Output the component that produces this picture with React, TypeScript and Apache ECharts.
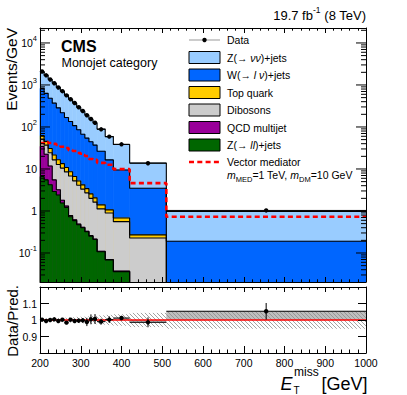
import React, { useEffect, useRef } from "react";
import * as echarts from "echarts";

// ---------- data ----------
// bin edges of E_T^miss in GeV
const binEdges = [200, 210, 220, 230, 240, 250, 260, 270, 280, 290, 300, 310, 320, 330, 340, 360, 380, 420, 510, 1000];

// Events / GeV per bin
const dataValues = [2090, 1700, 1350, 1100, 870, 710, 565, 457, 372, 295, 240, 190, 155, 126, 88, 59, 38.7, 13.7, 1.03];
const zvvValues = [1252, 1080, 870, 726, 590, 491, 406, 321, 266, 210, 173, 138, 109, 88, 62.5, 42.5, 28.7, 10.4, 0.79];
const wValues = [768, 586, 450, 348, 269, 205, 157, 126, 101, 81, 63, 51, 42, 35, 25, 15.4, 8.8, 3.2, 0.19];
const topValues = [11, 8.5, 6.5, 5.0, 3.8, 2.9, 2.3, 1.8, 1.4, 1.1, 0.88, 0.7, 0.55, 0.43, 0.28, 0.17, 0.125, 0.042, 0];
const dibosonValues = [17, 14.5, 12.5, 11, 9.6, 8.7, 7.2, 6.0, 4.6, 3.6, 2.9, 2.37, 1.74, 1.41, 1.01, 0.825, 0.52, 0.228, 0];
const qcdValues = [28, 17, 7.6, 2.6, 0.8, 0.25, 0.1, 0.05, 0.03, 0.02, 0.01, 0.01, 0.01, 0.005, 0.003, 0.002, 0.001, 0, 0];
const zllValues = [6.6, 5.5, 4.2, 2.9, 2.4, 1.55, 1.22, 0.73, 0.59, 0.47, 0.4, 0.32, 0.25, 0.21, 0.107, 0.068, 0.036, 0, 0];
const signalValues = [41.6, 44, 41.6, 39.5, 37.5, 33.9, 31.6, 28.1, 26.7, 24.0, 21.5, 20.4, 17.3, 16.5, 14.0, 12.6, 9.9, 4.6, 0.73];

// Data / Pred.
const ratioValues = [1.002, 0.994, 1.0, 1.004, 0.994, 1.002, 0.984, 1.002, 0.994, 0.996, 0.998, 0.988, 1.004, 1.006, 0.99, 1.002, 1.012, 0.986, 1.053];
const ratioErrors = [0.005, 0.005, 0.006, 0.006, 0.007, 0.008, 0.009, 0.01, 0.011, 0.012, 0.014, 0.025, 0.03, 0.03, 0.018, 0.02, 0.013, 0.03, 0.05];
const bandErrors = [0.008, 0.009, 0.01, 0.011, 0.012, 0.013, 0.014, 0.016, 0.017, 0.019, 0.02, 0.022, 0.024, 0.026, 0.028, 0.031, 0.035, 0.043, 0.053];

// axis ticks
const xMajorTicks = [200, 300, 400, 500, 600, 700, 800, 900, 1000];
const logDecades = [0.01, 0.1, 1, 10, 100, 1000, 10000];
const ratioTickLabels = [0.9, 1, 1.1];

// ---------- style ----------
const FONT = "'Liberation Sans', Arial, Helvetica, sans-serif";
const Y_MIN = 0.0204;
const Y_MAX = 22700;
const TINY = 1e-5;

const legendRows = [
  { label: "{a|Z(→ }{i|νν}{a|)+jets}", color: "#99ccff" },
  { label: "{a|W(→ }{i|l ν}{a|)+jets}", color: "#0066ff" },
  { label: "{a|Top quark}", color: "#ffcc00" },
  { label: "{a|Dibosons}", color: "#cccccc" },
  { label: "{a|QCD multijet}", color: "#990099" },
  { label: "{a|Z(→ }{i|ll}{a|)+jets}", color: "#006600" },
];

function stepData(vals: number[]) {
  const pts: number[][] = [];
  for (let i = 0; i < binEdges.length; i++) {
    const v = vals[Math.min(i, vals.length - 1)];
    pts.push([binEdges[i], v > 0 ? v : TINY]);
  }
  return pts;
}

function buildOption(): any {
  const n = dataValues.length;
  const stackLayers = [
    { values: zllValues, color: "#006600" },
    { values: qcdValues, color: "#990099" },
    { values: dibosonValues, color: "#cccccc" },
    { values: topValues, color: "#ffcc00" },
    { values: wValues, color: "#0066ff" },
    { values: zvvValues, color: "#99ccff" },
  ];
  const cums: number[][] = [];
  let run = new Array(n).fill(0);
  stackLayers.forEach((l) => {
    run = run.map((r: number, i: number) => r + l.values[i]);
    cums.push(run.slice());
  });

  const makeFill = (color: string) => (params: any, api: any) => {
    const v = api.value(2);
    if (!(v > Y_MIN)) return null;
    const cs = params.coordSys;
    const vv = Math.min(v, Y_MAX);
    const p0 = api.coord([api.value(0), vv]);
    const p1 = api.coord([api.value(1), vv]);
    const bottom = cs.y + cs.height;
    return {
      type: "rect",
      shape: { x: p0[0], y: p0[1], width: p1[0] - p0[0], height: bottom - p0[1] },
      style: { fill: color, stroke: color, lineWidth: 0.6 },
    };
  };

  const fillSeries = stackLayers
    .map((l, k) => ({
      type: "custom",
      xAxisIndex: 0,
      yAxisIndex: 0,
      silent: true,
      encode: { x: [0, 1], y: 2 },
      data: cums[k].map((v, i) => [binEdges[i], binEdges[i + 1], v > 0 ? v : TINY]),
      renderItem: makeFill(l.color),
    }))
    .reverse();

  const outlineSeries = stackLayers
    .map((l, k) => ({
      type: "line",
      xAxisIndex: 0,
      yAxisIndex: 0,
      step: "end",
      symbol: "none",
      silent: true,
      clip: true,
      data: stepData(cums[k]),
      lineStyle: { color: "#000", width: 1.1 },
    }))
    .reverse();

  const signalSeries = {
    type: "line",
    xAxisIndex: 0,
    yAxisIndex: 0,
    step: "end",
    symbol: "none",
    silent: true,
    clip: true,
    data: stepData(signalValues),
    lineStyle: { color: "#ff0000", width: 2.6, type: [5, 3.3] },
  };

  const logTicks: number[][] = [];
  logDecades.forEach((d) => {
    for (let m = 1; m <= 9; m++) {
      const v = m * d;
      if (v >= Y_MIN && v <= Y_MAX) logTicks.push([200, v, m === 1 ? 1 : 0]);
    }
  });
  const logTickSeries = {
    type: "custom",
    xAxisIndex: 0,
    yAxisIndex: 0,
    silent: true,
    z: 10,
    encode: { x: 0, y: 1 },
    data: logTicks,
    renderItem: (params: any, api: any) => {
      const v = api.value(1);
      const major = api.value(2) === 1;
      const pl = api.coord([200, v]);
      const pr = api.coord([1000, v]);
      const len = major ? 10 : 5;
      return {
        type: "group",
        children: [
          { type: "line", shape: { x1: pl[0], y1: pl[1], x2: pl[0] + len, y2: pl[1] }, style: { stroke: "#000", lineWidth: 1 } },
          { type: "line", shape: { x1: pr[0] - len, y1: pr[1], x2: pr[0], y2: pr[1] }, style: { stroke: "#000", lineWidth: 1 } },
        ],
      };
    },
  };

  const dataSeries = {
    type: "custom",
    xAxisIndex: 0,
    yAxisIndex: 0,
    silent: true,
    z: 5,
    encode: { x: [0, 1], y: 2 },
    data: dataValues.map((v, i) => [binEdges[i], binEdges[i + 1], v, v * ratioErrors[i]]),
    renderItem: (params: any, api: any) => {
      const x0 = api.value(0), x1 = api.value(1), v = api.value(2), e = api.value(3);
      const pL = api.coord([x0, v]);
      const pR = api.coord([x1, v]);
      const pT = api.coord([x0, v + e]);
      const pB = api.coord([x0, Math.max(v - e, Y_MIN)]);
      const cx = (pL[0] + pR[0]) / 2;
      return {
        type: "group",
        children: [
          { type: "line", shape: { x1: pL[0], y1: pL[1], x2: pR[0], y2: pR[1] }, style: { stroke: "#000", lineWidth: 1 } },
          { type: "line", shape: { x1: cx, y1: pT[1], x2: cx, y2: pB[1] }, style: { stroke: "#000", lineWidth: 1 } },
          { type: "circle", shape: { cx, cy: pL[1], r: 2.2 }, style: { fill: "#000" } },
        ],
      };
    },
  };

  // ratio panel
  const grayBoxSeries = {
    type: "custom",
    xAxisIndex: 2,
    yAxisIndex: 2,
    silent: true,
    encode: { x: [0, 1], y: 2 },
    data: ratioValues.map((r, i) => [binEdges[i], binEdges[i + 1], r]),
    renderItem: (params: any, api: any) => {
      const a = api.coord([api.value(0), 1]);
      const b = api.coord([api.value(1), api.value(2)]);
      return {
        type: "rect",
        shape: { x: a[0], y: Math.min(a[1], b[1]), width: b[0] - a[0], height: Math.abs(b[1] - a[1]) },
        style: { fill: "#bdbdbd" },
      };
    },
  };

  const hatchSeries = {
    type: "custom",
    xAxisIndex: 2,
    yAxisIndex: 2,
    silent: true,
    encode: { x: [0, 1], y: 2 },
    data: bandErrors.map((e, i) => [binEdges[i], binEdges[i + 1], e]),
    renderItem: (params: any, api: any) => {
      const e = api.value(2);
      const a = api.coord([api.value(0), 1 + e]);
      const b = api.coord([api.value(1), 1 - e]);
      const L = a[0], R = b[0], T = a[1], B = b[1];
      const s = 4;
      const children: any[] = [];
      const dMin = L - B, dMax = R - T;
      for (let k = Math.ceil(dMin / s); k * s <= dMax; k++) {
        const d = k * s;
        const xs = Math.max(L, T + d);
        const xe = Math.min(R, B + d);
        if (xe > xs) {
          children.push({
            type: "line",
            shape: { x1: xs, y1: xs - d, x2: xe, y2: xe - d },
            style: { stroke: "#8a8a8a", lineWidth: 0.8 },
          });
        }
      }
      return { type: "group", children };
    },
  };

  const unityLine = {
    type: "line",
    xAxisIndex: 2,
    yAxisIndex: 2,
    symbol: "none",
    silent: true,
    data: [[200, 1], [1000, 1]],
    lineStyle: { color: "#ff0000", width: 1.6 },
  };

  const ratioPoints = {
    type: "custom",
    xAxisIndex: 2,
    yAxisIndex: 2,
    silent: true,
    z: 5,
    encode: { x: [0, 1], y: 2 },
    data: ratioValues.map((r, i) => [binEdges[i], binEdges[i + 1], r, ratioErrors[i]]),
    renderItem: (params: any, api: any) => {
      const x0 = api.value(0), x1 = api.value(1), v = api.value(2), e = api.value(3);
      const pL = api.coord([x0, v]);
      const pR = api.coord([x1, v]);
      const pT = api.coord([x0, v + e]);
      const pB = api.coord([x0, v - e]);
      const cx = (pL[0] + pR[0]) / 2;
      return {
        type: "group",
        children: [
          { type: "line", shape: { x1: pL[0], y1: pL[1], x2: pR[0], y2: pR[1] }, style: { stroke: "#000", lineWidth: 1 } },
          { type: "line", shape: { x1: cx, y1: pT[1], x2: cx, y2: pB[1] }, style: { stroke: "#000", lineWidth: 1 } },
          { type: "circle", shape: { cx, cy: pL[1], r: 2.2 }, style: { fill: "#000" } },
        ],
      };
    },
  };

  const axisLine = { show: true, onZero: false, lineStyle: { color: "#000", width: 1 } };
  const xCommon = {
    type: "value",
    min: 200,
    max: 1000,
    interval: 100,
    z: 10,
    axisLine,
    splitLine: { show: false },
  };

  // legend graphics
  const lgX = 189, lgW = 31, lgH = 12, txX = 227;
  const rowY = [57.5, 75, 92.5, 110, 127.5, 145];
  const textRich = {
    a: { fontSize: 10.5, fontFamily: FONT, fill: "#000" },
    i: { fontSize: 10.5, fontFamily: FONT, fontStyle: "italic", fill: "#000" },
  };
  const graphics: any[] = [];
  graphics.push({ type: "line", z: 100, shape: { x1: lgX, y1: 40, x2: lgX + lgW, y2: 40 }, style: { stroke: "#999", lineWidth: 1 } });
  graphics.push({ type: "circle", z: 100, shape: { cx: lgX + lgW / 2, cy: 40, r: 2.2 }, style: { fill: "#000" } });
  graphics.push({ type: "text", z: 100, x: txX, y: 40, style: { text: "Data", fontSize: 10.5, fontFamily: FONT, fill: "#000", verticalAlign: "middle" } });
  legendRows.forEach((r, k) => {
    graphics.push({ type: "rect", z: 100, shape: { x: lgX, y: rowY[k] - lgH / 2, width: lgW, height: lgH }, style: { fill: r.color, stroke: "#000", lineWidth: 1 } });
    graphics.push({ type: "text", z: 100, x: txX, y: rowY[k], style: { text: r.label, rich: textRich, verticalAlign: "middle" } });
  });
  graphics.push({ type: "line", z: 100, shape: { x1: lgX, y1: 162, x2: lgX + lgW, y2: 162 }, style: { stroke: "#ff0000", lineWidth: 2.6, lineDash: [5, 3.3] } });
  graphics.push({ type: "text", z: 100, x: txX, y: 162, style: { text: "Vector mediator", fontSize: 10.5, fontFamily: FONT, fill: "#000", verticalAlign: "middle" } });
  graphics.push({
    type: "text",
    z: 100,
    x: txX,
    y: 175,
    style: {
      text: "{i|m}{sub|MED}{a|=1 TeV, }{i|m}{sub|DM}{a|=10 GeV}",
      verticalAlign: "middle",
      rich: {
        a: { fontSize: 10.5, fontFamily: FONT, fill: "#000", lineHeight: 16, verticalAlign: "middle" },
        i: { fontSize: 10.5, fontFamily: FONT, fontStyle: "italic", fill: "#000", lineHeight: 16, verticalAlign: "middle" },
        sub: { fontSize: 7.5, fontFamily: FONT, fill: "#000", lineHeight: 9, verticalAlign: "bottom" },
      },
    },
  });
  // titles
  graphics.push({
    type: "text",
    z: 100,
    x: 366,
    y: 15,
    style: {
      text: "{a|19.7 fb}{s|-1}{a| (8 TeV)}",
      align: "right",
      verticalAlign: "middle",
      rich: {
        a: { fontSize: 13, fontFamily: FONT, fill: "#000", lineHeight: 20, verticalAlign: "middle" },
        s: { fontSize: 8.5, fontFamily: FONT, fill: "#000", lineHeight: 9, verticalAlign: "top" },
      },
    },
  });
  graphics.push({ type: "text", z: 100, x: 61, y: 46, style: { text: "CMS", fontSize: 16, fontWeight: "bold", fontFamily: FONT, fill: "#000", verticalAlign: "middle" } });
  graphics.push({ type: "text", z: 100, x: 61.5, y: 62.5, style: { text: "Monojet category", fontSize: 12.5, fontFamily: FONT, fill: "#000", verticalAlign: "middle" } });
  graphics.push({ type: "text", z: 100, x: 3.5, y: 28, rotation: Math.PI / 2, style: { text: "Events/GeV", fontSize: 15.5, fontFamily: FONT, fill: "#000", align: "right", verticalAlign: "top" } });
  graphics.push({ type: "text", z: 100, x: 5, y: 285, rotation: Math.PI / 2, style: { text: "Data/Pred.", fontSize: 15, fontFamily: FONT, fill: "#000", align: "right", verticalAlign: "top" } });
  // x-axis title: E_T^miss [GeV]
  graphics.push({ type: "text", z: 100, x: 280.5, y: 383.5, style: { text: "E", fontSize: 18, fontStyle: "italic", fontFamily: FONT, fill: "#000", verticalAlign: "middle" } });
  graphics.push({ type: "text", z: 100, x: 294, y: 372, style: { text: "miss", fontSize: 12, fontFamily: FONT, fill: "#000", verticalAlign: "middle" } });
  graphics.push({ type: "text", z: 100, x: 293.5, y: 390, style: { text: "T", fontSize: 10, fontFamily: FONT, fill: "#000", verticalAlign: "middle" } });
  graphics.push({ type: "text", z: 100, x: 321.5, y: 383.5, style: { text: "[GeV]", fontSize: 18, fontFamily: FONT, fill: "#000", verticalAlign: "middle" } });

  return {
    animation: false,
    backgroundColor: "#ffffff",
    textStyle: { fontFamily: FONT },
    grid: [
      { left: 40, top: 28, width: 326, height: 254 },
      { left: 40, top: 287, width: 326, height: 66 },
    ],
    xAxis: [
      {
        ...xCommon,
        gridIndex: 0,
        position: "bottom",
        axisLabel: { show: false },
        axisTick: { show: true, inside: true, length: 5, lineStyle: { color: "#000" } },
        minorTick: { show: true, splitNumber: 5, length: 2.7, lineStyle: { color: "#000" } },
      },
      {
        ...xCommon,
        gridIndex: 0,
        position: "top",
        axisLabel: { show: false },
        axisTick: { show: true, inside: true, length: 5, lineStyle: { color: "#000" } },
        minorTick: { show: true, splitNumber: 5, length: 2.7, lineStyle: { color: "#000" } },
      },
      {
        ...xCommon,
        gridIndex: 1,
        position: "bottom",
        axisLabel: {
          show: true,
          fontSize: 10.5,
          color: "#000",
          fontFamily: FONT,
          margin: 4,
          formatter: (v: number) => (xMajorTicks.indexOf(v) >= 0 ? String(v) : ""),
        },
        axisTick: { show: true, inside: true, length: 7, lineStyle: { color: "#000" } },
        minorTick: { show: true, splitNumber: 5, length: 3.5, lineStyle: { color: "#000" } },
      },
      {
        ...xCommon,
        gridIndex: 1,
        position: "top",
        axisLabel: { show: false },
        axisTick: { show: true, inside: true, length: 5, lineStyle: { color: "#000" } },
        minorTick: { show: true, splitNumber: 5, length: 2.7, lineStyle: { color: "#000" } },
      },
    ],
    yAxis: [
      {
        type: "log",
        logBase: 10,
        gridIndex: 0,
        position: "left",
        min: Y_MIN,
        max: Y_MAX,
        z: 10,
        axisLine,
        axisTick: { show: false },
        splitLine: { show: false },
        axisLabel: {
          show: true,
          margin: 3,
          showMinLabel: false,
          showMaxLabel: false,
          formatter: (v: number) => {
            const e = Math.log10(v);
            const r = Math.round(e);
            if (Math.abs(e - r) > 1e-6) return "";
            if (r === 0) return "{b|1}";
            if (r === 1) return "{b|10}";
            return "{b|10}{s|" + r + "}";
          },
          rich: {
            b: { fontSize: 10.5, fontFamily: FONT, color: "#000", lineHeight: 16, verticalAlign: "middle" },
            s: { fontSize: 7.5, fontFamily: FONT, color: "#000", lineHeight: 7, verticalAlign: "top" },
          },
        },
      },
      {
        type: "log",
        logBase: 10,
        gridIndex: 0,
        position: "right",
        min: Y_MIN,
        max: Y_MAX,
        z: 10,
        axisLine,
        axisTick: { show: false },
        axisLabel: { show: false },
        splitLine: { show: false },
      },
      {
        type: "value",
        gridIndex: 1,
        position: "left",
        min: 0.8,
        max: 1.2,
        interval: 0.1,
        z: 10,
        axisLine,
        splitLine: { show: false },
        axisTick: { show: true, inside: true, length: 9, lineStyle: { color: "#000" } },
        axisLabel: {
          show: true,
          margin: 3,
          fontSize: 10.5,
          color: "#000",
          fontFamily: FONT,
          formatter: (v: number) => {
            const hit = ratioTickLabels.find((t) => Math.abs(t - v) < 1e-6);
            return hit === undefined ? "" : String(hit);
          },
        },
      },
      {
        type: "value",
        gridIndex: 1,
        position: "right",
        min: 0.8,
        max: 1.2,
        interval: 0.1,
        z: 10,
        axisLine,
        splitLine: { show: false },
        axisTick: { show: true, inside: true, length: 8, lineStyle: { color: "#000" } },
        axisLabel: { show: false },
      },
    ],
    series: [
      ...fillSeries,
      ...outlineSeries,
      signalSeries,
      dataSeries,
      logTickSeries,
      grayBoxSeries,
      hatchSeries,
      unityLine,
      ratioPoints,
    ],
    graphic: graphics,
  };
}

export default function App() {
  const ref = useRef<HTMLDivElement>(null);
  useEffect(() => {
    const chart = echarts.init(ref.current as HTMLDivElement, null, { renderer: "svg" });
    chart.setOption(buildOption());
    return () => chart.dispose();
  }, []);
  return (
    <div
      ref={ref}
      style={{ position: "absolute", left: 0, top: 0, width: 407, height: 395, background: "#fff" }}
    />
  );
}
